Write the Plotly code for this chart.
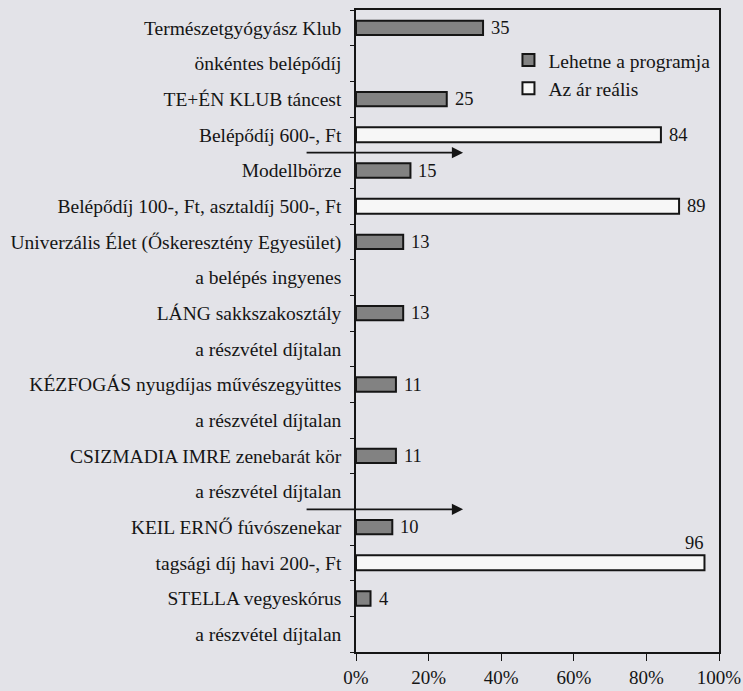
import plotly.graph_objects as go

# ---- data ----
row_labels = [
    "Természetgyógyász Klub",
    "önkéntes belépődíj",
    "TE+ÉN KLUB táncest",
    "Belépődíj 600-, Ft",
    "Modellbörze",
    "Belépődíj 100-, Ft, asztaldíj 500-, Ft",
    "Univerzális Élet (Őskeresztény Egyesület)",
    "a belépés ingyenes",
    "LÁNG sakkszakosztály",
    "a részvétel díjtalan",
    "KÉZFOGÁS nyugdíjas művészegyüttes",
    "a részvétel díjtalan",
    "CSIZMADIA IMRE zenebarát kör",
    "a részvétel díjtalan",
    "KEIL ERNŐ fúvószenekar",
    "tagsági díj havi 200-, Ft",
    "STELLA vegyeskórus",
    "a részvétel díjtalan",
]
lehetne = [35, None, 25, None, 15, None, 13, None, 13, None, 11, None, 11, None, 10, None, 4, None]
ar_realis = [None, None, None, 84, None, 89, None, None, None, None, None, None, None, None, None, 96, None, None]
arrow_rows = [3.5, 13.5]        # arrows between rows
arrow_tip = 29.5                # arrow tip position in %
x_ticks = [0, 20, 40, 60, 80, 100]
x_tick_labels = ["0%", "20%", "40%", "60%", "80%", "100%"]

FONT = "Liberation Serif, Tinos, Times New Roman, serif"
BG = "#e3e3e8"
INK = "#151515"

ypos = list(range(len(row_labels)))

fig = go.Figure()
fig.add_trace(go.Bar(
    y=ypos, x=lehetne, orientation="h", name="Lehetne a programja",
    marker=dict(color="#828282", line=dict(color=INK, width=2)),
    width=0.4, legendgroup="a",
))
fig.add_trace(go.Bar(
    y=ypos, x=ar_realis, orientation="h", name="Az ár reális",
    marker=dict(color="#f7f7f7", line=dict(color=INK, width=2)),
    width=0.42, legendgroup="b",
))

annotations = []
for series in (lehetne, ar_realis):
    for i, v in enumerate(series):
        if v is None:
            continue
        if v > 90:
            annotations.append(dict(x=v, y=i, text=str(v), showarrow=False,
                                    xanchor="right", yanchor="middle", yshift=20, xshift=2,
                                    font=dict(family=FONT, size=18.5, color=INK)))
        else:
            annotations.append(dict(x=v, y=i, text=str(v), showarrow=False,
                                    xanchor="left", yanchor="middle", xshift=6,
                                    font=dict(family=FONT, size=18.5, color=INK)))
for yr in arrow_rows:
    annotations.append(dict(x=arrow_tip, y=yr, ax=-158, ay=0, axref="pixel", ayref="pixel",
                            text="", showarrow=True, arrowhead=2, arrowsize=1.4,
                            arrowwidth=1.6, arrowcolor=INK))

fig.update_layout(
    width=743, height=691,
    margin=dict(l=356, r=24, t=10, b=39, autoexpand=False),
    paper_bgcolor=BG, plot_bgcolor=BG,
    barmode="overlay",
    font=dict(family=FONT, size=19, color=INK),
    showlegend=True,
    legend=dict(x=0.42, y=0.952, xanchor="left", yanchor="top",
                bgcolor="rgba(0,0,0,0)", font=dict(family=FONT, size=19.5, color=INK),
                traceorder="grouped", tracegroupgap=0),
    annotations=annotations,
    xaxis=dict(range=[0, 100], tickvals=x_ticks, ticktext=x_tick_labels,
               ticks="outside", ticklen=7, tickwidth=1.2, tickcolor=INK,
               showline=True, linecolor=INK, linewidth=1.5, mirror=True,
               showgrid=False, zeroline=False, automargin=False,
               tickfont=dict(family=FONT, size=19, color=INK)),
    yaxis=dict(range=[17.5, -0.5], tickvals=ypos, ticktext=row_labels,
               ticks="", showline=True, linecolor=INK, linewidth=1.5, mirror=True,
               showgrid=False, zeroline=False, ticklabelstandoff=9, automargin=False,
               tickfont=dict(family=FONT, size=19.5, color=INK),
               minor=dict(tick0=0.5, dtick=1, ticks="outside", ticklen=4,
                          tickcolor=INK, tickwidth=1.2, showgrid=False)),
)

fig.write_html("out.html", config={"displayModeBar": False},
               post_script="document.body.style.margin='0';document.body.style.background='%s';" % BG)
